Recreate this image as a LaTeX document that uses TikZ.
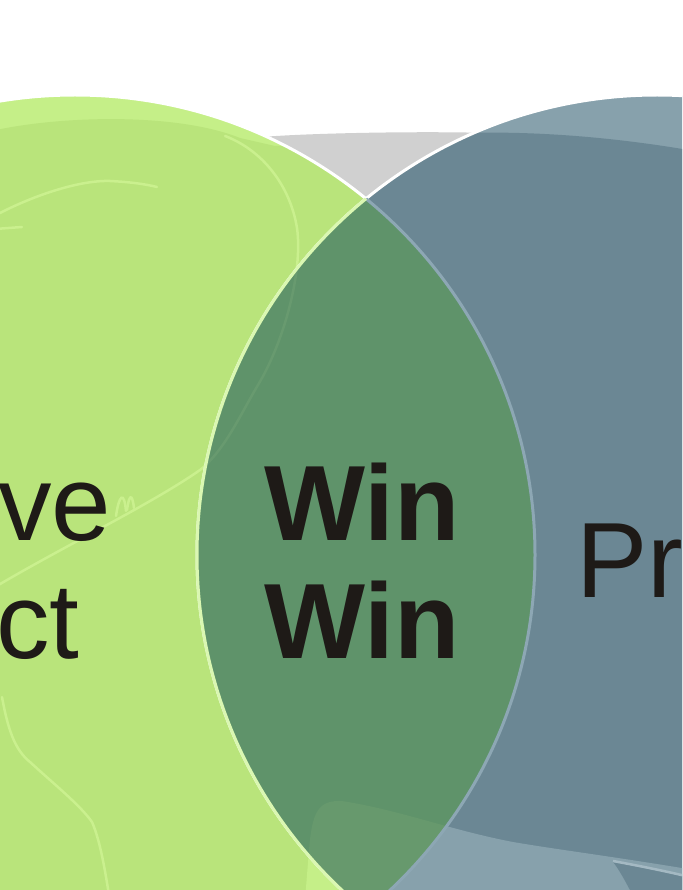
\documentclass[tikz,border=0pt]{standalone}
\usepackage{fontspec}
\setmainfont{Liberation Sans}

\definecolor{greyback}{HTML}{D0D0D0}
\definecolor{greenlight}{HTML}{C5EF88}
\definecolor{greenmain}{HTML}{B9E47B}
\definecolor{greenline}{HTML}{CAF08E}
\definecolor{greenedge}{HTML}{DAF7B2}
\definecolor{lensmain}{HTML}{5F936A}
\definecolor{lenspatch}{HTML}{67996D}
\definecolor{lensline}{HTML}{689A6F}
\definecolor{bluelight}{HTML}{87A1AC}
\definecolor{bluemain}{HTML}{6B8794}
\definecolor{blueedge}{HTML}{8DA7B4}
\definecolor{textdark}{HTML}{1E1A17}

% the two circles and the pale patch at the bottom
\newcommand{\leftdisc}{(75,555) circle (460)}
\newcommand{\rightdisc}{(657,555) circle (460)}
\newcommand{\bottompatch}{(305,900) -- (309,850) .. controls (312,812) and (318,800) .. (342,801)
  .. controls (400,810) and (450,830) .. (513,842) .. controls (560,850) and (610,856) .. (700,871)
  -- (700,900) -- cycle}
\newcommand{\headline}{(225,136) .. controls (262,150) and (290,185) .. (297,228)
  .. controls (303,270) and (285,340) .. (258,385) .. controls (240,415) and (225,450) .. (200,470)
  .. controls (150,505) and (60,548) .. (-10,590)}

\begin{document}
\begin{tikzpicture}[x=1pt,y=-1pt,
  faintline/.style={line width=2.5pt,line cap=round},
  circleedge/.style={line width=3pt},
  bigword/.style={inner sep=0pt,text=textdark,font=\fontsize{107}{118}\selectfont},
  boldword/.style={bigword,font=\fontsize{107}{118}\selectfont\bfseries}]

\useasboundingbox (0,0) rectangle (682,890);
\clip (0,0) rectangle (682,890);

% Grey shape behind
\fill[greyback] (250,138) .. controls (300,133) and (420,131) .. (490,133)
  -- (490,260) -- (250,260) -- cycle;

% Left circle
\fill[greenlight] \leftdisc;
\begin{scope}
\clip \leftdisc;
\fill[greenmain] (-20,134) .. controls (40,117) and (170,110) .. (240,138)
  -- (275,146) -- (700,146) -- (700,900) -- (-20,900) -- cycle;
\fill[greenlight] \bottompatch;
% faint strokes
\draw[faintline,greenline] \headline;
\draw[faintline,greenline] (0,213) .. controls (35,195) and (80,180) .. (110,181)
  .. controls (130,182) and (145,184) .. (157,187);
\draw[faintline,greenline] (-5,229) -- (22,227);
\draw[faintline,greenline] (116,516) .. controls (119,495) and (124,490) .. (126,511);
\draw[faintline,greenline] (127,510) .. controls (129,495) and (132,492) .. (134,508);
\draw[faintline,greenline] (2,697) .. controls (8,730) and (15,750) .. (30,762)
  .. controls (55,785) and (80,805) .. (92,822) .. controls (100,840) and (105,870) .. (109,895);
\end{scope}
\draw[circleedge,white] \leftdisc;

% Right circle
\fill[bluelight] \rightdisc;
\begin{scope}
\clip \rightdisc;
\fill[bluemain] (150,200) -- (460,133) .. controls (530,131) and (610,136) .. (700,152)
  -- (700,900) -- (150,900) -- cycle;
\fill[bluelight] \bottompatch;
\fill[bluemain] (635,900) .. controls (625,880) and (618,868) .. (613,862)
  .. controls (640,867) and (665,872) .. (690,878) -- (690,900) -- cycle;
\draw[line width=2.5pt,blueedge!80!white] (613,861) .. controls (640,866) and (665,871) .. (690,877);
\end{scope}
\draw[circleedge,white] \rightdisc;

% Overlap
\begin{scope}
\clip \leftdisc;
\fill[lensmain] \rightdisc;
\clip \rightdisc;
\fill[lenspatch] \bottompatch;
\draw[faintline,lensline] \headline;
\end{scope}

% Edges round the overlap
\begin{scope}
\clip \rightdisc;
\draw[circleedge,blueedge] \leftdisc;
\end{scope}
\begin{scope}
\clip \leftdisc;
\draw[circleedge,greenedge] \rightdisc;
\end{scope}

% Labels
\node[bigword,anchor=base west] (leftone) at (-2,540) {ve};
\node[bigword,anchor=base west] (lefttwo) at (-4,658) {ct};
\node[boldword,anchor=base] (winone) at (362,540) {Win};
\node[boldword,anchor=base] (wintwo) at (362,658) {Win};
\node[bigword,anchor=base west] (rightone) at (576,597) {Pr};

\end{tikzpicture}
\end{document}
